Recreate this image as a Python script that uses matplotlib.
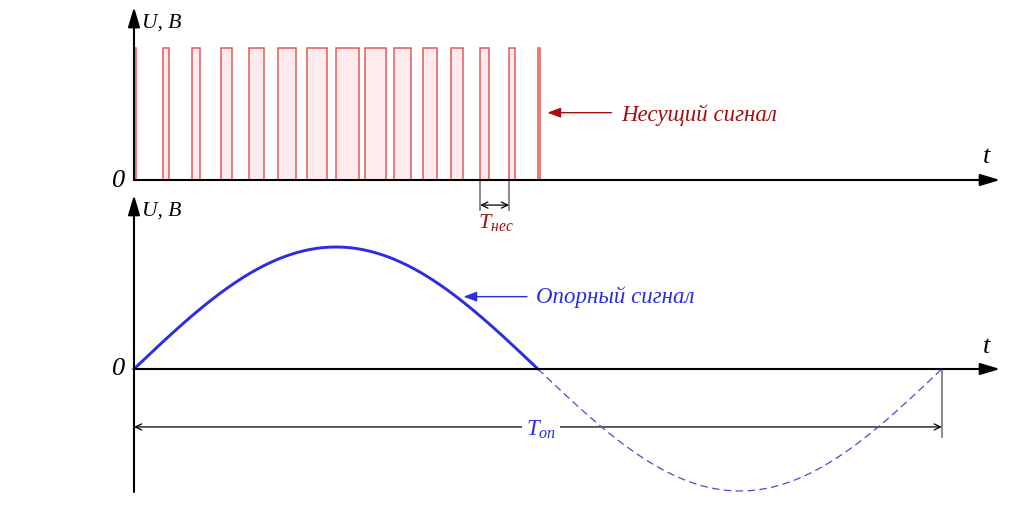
import numpy as np
import matplotlib
matplotlib.use('Agg')
import matplotlib.pyplot as plt

# fonts: italic serif everywhere, cyrillic in the subscripts too
plt.rcParams['font.family'] = ['Liberation Serif', 'DejaVu Serif']
plt.rcParams['font.style'] = 'italic'
plt.rcParams['mathtext.fontset'] = 'custom'
plt.rcParams['mathtext.it'] = 'Liberation Serif:italic'
plt.rcParams['mathtext.rm'] = 'Liberation Serif'

''' data '''
# carrier pulses: one per carrier period, width as a fraction of the period
pulse_duty = [0.08, 0.21, 0.29, 0.41, 0.50, 0.60, 0.70, 0.81,
              0.72, 0.61, 0.50, 0.40, 0.31, 0.22, 0.09]
pulse_height = 1.0
carrier_period = 1.0
# reference sine, period measured in carrier periods
ref_period = 28.0
ref_amp = 1.0
# which carrier period gets the T_нес dimension
marked_period = 12

# texts
y_label = 'U, В'
x_label = 't'
zero_label = '0'
carrier_label = 'Несущий сигнал'
ref_label = 'Опорный сигнал'
carrier_T = r'$T_{нес}$'
ref_T = r'$T_{оп}$'

''' colours '''
RED_TXT = '#a50e0e'
RED_EDGE = '#e25a5a'
RED_FILL = '#fdebee'
BLUE = '#2c2ce2'
BLUE_DASH = '#4a4ad2'
GREY = '#808080'

fig = plt.figure(figsize=(10.24, 5.05), dpi=100)
# both panels share the same time scale (px per carrier period, t=0 at x=134px)
PX = 28.85
xlim = (-134 / PX, (1024 - 134) / PX)
ax_top = fig.add_axes([0, 315 / 505, 1, 190 / 505])
ax_bot = fig.add_axes([0, 0, 1, 315 / 505])
ax_top.set_xlim(xlim)
ax_bot.set_xlim(xlim)
ax_top.set_ylim(-10 / 132, 180 / 132)
ax_bot.set_ylim(-136 / 122, 179 / 122)
for ax in (ax_top, ax_bot):
    ax.axis('off')
    ax.patch.set_visible(False)

t_end = (1000 - 134) / PX  # where the time axis arrow ends


def axis_arrow(ax, x0, y0, x1, y1):
    ax.annotate('', xy=(x1, y1), xytext=(x0, y0), annotation_clip=False,
                arrowprops=dict(arrowstyle='-|>,head_length=1.2,head_width=0.36',
                                mutation_scale=10, lw=1.5, color='k',
                                shrinkA=0, shrinkB=0), zorder=5)


def dim_arrow(ax, x0, x1, y):
    ax.annotate('', xy=(x1, y), xytext=(x0, y), annotation_clip=False,
                arrowprops=dict(arrowstyle='<->,head_length=0.45,head_width=0.22',
                                mutation_scale=10, lw=0.9, color='k',
                                shrinkA=0, shrinkB=0), zorder=3)


def label_arrow(ax, x0, x1, y, color):
    ax.annotate('', xy=(x1, y), xytext=(x0, y), annotation_clip=False,
                arrowprops=dict(arrowstyle='-|>,head_length=0.8,head_width=0.3',
                                mutation_scale=10, lw=1.0, color=color,
                                shrinkA=0, shrinkB=0), zorder=3)


''' top panel: carrier '''
starts = np.arange(len(pulse_duty)) * carrier_period
widths = np.array(pulse_duty) * carrier_period
ax_top.bar(starts, pulse_height, width=widths, align='edge', color=RED_FILL,
           edgecolor=RED_EDGE, linewidth=1.1, zorder=2)
axis_arrow(ax_top, 0, 0, t_end, 0)
axis_arrow(ax_top, 0, 0, 0, 1.31)
ax_top.text(0.28, 1.152, y_label, fontsize=15.5, ha='left', va='baseline')
ax_top.text(-0.52, -0.05, zero_label, fontsize=19, ha='center', va='baseline')
ax_top.text(29.55, 0.126, x_label, fontsize=19, ha='center', va='baseline')

# T_нес dimension
t0 = marked_period * carrier_period
t1 = t0 + carrier_period
for tx in (t0, t1):
    ax_top.plot([tx, tx], [0, -0.23], color=GREY, lw=1.3, clip_on=False, zorder=3)
dim_arrow(ax_top, t0, t1, -0.19)
ax_top.text((t0 + t1) / 2 + 0.05, -0.36, carrier_T, fontsize=16, color=RED_TXT,
            ha='center', va='baseline')

label_arrow(ax_top, 16.55, 14.33, 0.51, RED_TXT)
ax_top.text(16.9, 0.449, carrier_label, fontsize=16.5, color=RED_TXT,
            ha='left', va='baseline')

''' bottom panel: reference sine '''
t_solid = np.linspace(0, ref_period / 2, 200)
t_dash = np.linspace(ref_period / 2, ref_period, 200)
ax_bot.plot(t_solid, ref_amp * np.sin(2 * np.pi * t_solid / ref_period),
            color=BLUE, lw=2.1, zorder=4)
ax_bot.plot(t_dash, ref_amp * np.sin(2 * np.pi * t_dash / ref_period),
            color=BLUE_DASH, lw=0.9, ls=(0, (6, 3.5)), zorder=4)
axis_arrow(ax_bot, 0, 0, t_end, 0)
axis_arrow(ax_bot, 0, -1.008, 0, 1.426)
ax_bot.text(0.28, 1.254, y_label, fontsize=15.5, ha='left', va='baseline')
ax_bot.text(-0.52, -0.05, zero_label, fontsize=19, ha='center', va='baseline')
ax_bot.text(29.55, 0.131, x_label, fontsize=19, ha='center', va='baseline')

# T_оп dimension
ax_bot.plot([ref_period, ref_period], [0, -0.56], color=GREY, lw=1.3, zorder=3)
dim_arrow(ax_bot, 0, ref_period, -0.475)
ax_bot.text(ref_period / 2 + 0.1, -0.545, ref_T, fontsize=16.5, color=BLUE,
            ha='center', va='baseline', zorder=6,
            bbox=dict(facecolor='white', edgecolor='none', pad=3))

label_arrow(ax_bot, 13.62, 11.42, 0.593, BLUE)
ax_bot.text(13.95, 0.539, ref_label, fontsize=16.5, color=BLUE,
            ha='left', va='baseline')

fig.savefig('out.png', dpi=100)
